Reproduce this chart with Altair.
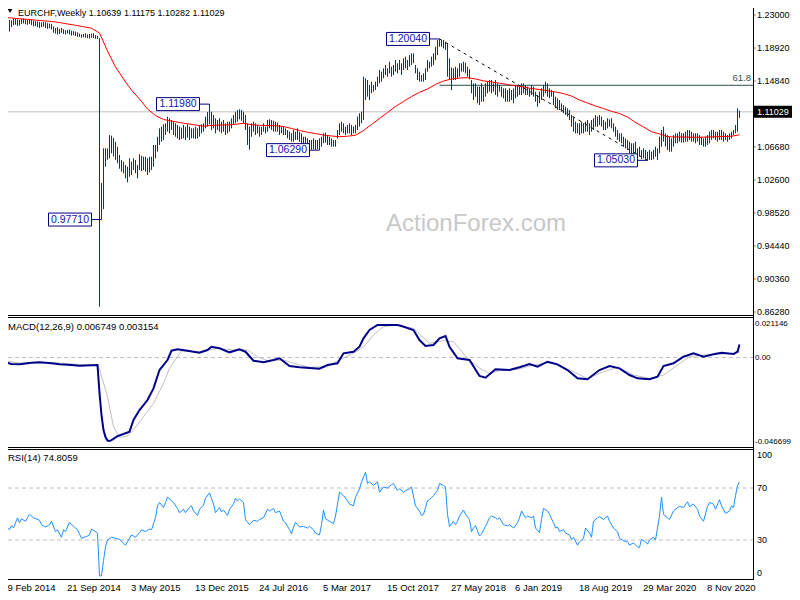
import altair as alt
import pandas as pd

START = "2014-02-09"  # first weekly bar

# ---------------- price bars (weekly high / low) ----------------
high = [
 1.2272, 1.2265, 1.2250, 1.2240, 1.2235, 1.2255, 1.2250, 1.2245, 1.2240, 1.2250,
 1.2255, 1.2250, 1.2240, 1.2245, 1.2240, 1.2230, 1.2225, 1.2220, 1.2215, 1.2210,
 1.2215, 1.2210, 1.2200, 1.2195, 1.2190, 1.2160, 1.2140, 1.2150, 1.2130, 1.2140,
 1.2125, 1.2110, 1.2115, 1.2120, 1.2105, 1.2100, 1.2095, 1.2085, 1.2070, 1.2060,
 1.2065, 1.2075, 1.2060, 1.2065, 1.2070, 1.2075, 1.2050, 1.2040, 1.2013, 1.0223,
 1.0652, 1.0652, 1.0650, 1.0816, 1.0808, 1.0780, 1.0733, 1.0670, 1.0570, 1.0507,
 1.0486, 1.0446, 1.0425, 1.0528, 1.0486, 1.0528, 1.0507, 1.0446, 1.0578, 1.0560,
 1.0548, 1.0548, 1.0528, 1.0548, 1.0548, 1.0693, 1.0693, 1.0795, 1.0899, 1.0919,
 1.0949, 1.0961, 1.1043, 1.1023, 1.1002, 1.0981, 1.0961, 1.0940, 1.0919, 1.0907,
 1.0940, 1.0919, 1.0949, 1.0919, 1.0899, 1.0899, 1.0919, 1.0900, 1.0940, 1.0949,
 1.0961, 1.1043, 1.1100, 1.1198, 1.1104, 1.1064, 1.1023, 1.1002, 1.1023, 1.0981,
 1.1002, 1.0961, 1.0981, 1.0981, 1.1023, 1.1064, 1.1104, 1.1125, 1.1134, 1.1125,
 1.1104, 1.1064, 1.0961, 1.0919, 1.0961, 1.0981, 1.0961, 1.0940, 1.0919, 1.0919,
 1.0961, 1.0919, 1.1002, 1.1010, 1.1002, 1.0993, 1.0981, 1.0969, 1.0940, 1.0919,
 1.0919, 1.0899, 1.0878, 1.0857, 1.0837, 1.0878, 1.0857, 1.0899, 1.0857, 1.0837,
 1.0795, 1.0795, 1.0775, 1.0755, 1.0755, 1.0775, 1.0755, 1.0755, 1.0775, 1.0795,
 1.0837, 1.0845, 1.0816, 1.0795, 1.0775, 1.0755, 1.0755, 1.0878, 1.0961, 1.0981,
 1.0961, 1.0919, 1.0940, 1.0961, 1.0940, 1.0919, 1.0940, 1.1043, 1.1085, 1.1104,
 1.1537, 1.1517, 1.1496, 1.1435, 1.1476, 1.1435, 1.1476, 1.1537, 1.1620, 1.1599,
 1.1641, 1.1682, 1.1641, 1.1723, 1.1661, 1.1682, 1.1744, 1.1703, 1.1744, 1.1703,
 1.1765, 1.1785, 1.1744, 1.1805, 1.1826, 1.1826, 1.1682, 1.1641, 1.1599, 1.1558,
 1.1579, 1.1641, 1.1744, 1.1723, 1.1785, 1.1826, 1.1908, 1.1991, 1.2004, 1.1991,
 1.1991, 1.1970, 1.1941, 1.1765, 1.1650, 1.1641, 1.1661, 1.1641, 1.1703, 1.1703,
 1.1723, 1.1711, 1.1661, 1.1629, 1.1496, 1.1455, 1.1455, 1.1414, 1.1414, 1.1455,
 1.1414, 1.1455, 1.1476, 1.1496, 1.1496, 1.1455, 1.1496, 1.1455, 1.1435, 1.1414,
 1.1394, 1.1394, 1.1373, 1.1394, 1.1373, 1.1394, 1.1435, 1.1435, 1.1414, 1.1455,
 1.1455, 1.1435, 1.1414, 1.1394, 1.1435, 1.1414, 1.1352, 1.1311, 1.1352, 1.1394,
 1.1435, 1.1476, 1.1455, 1.1394, 1.1373, 1.1352, 1.1290, 1.1270, 1.1249, 1.1208,
 1.1187, 1.1166, 1.1146, 1.1125, 1.1064, 1.1043, 1.0981, 1.0961, 1.0961, 1.0981,
 1.0961, 1.0981, 1.1002, 1.0961, 1.1002, 1.1023, 1.1064, 1.1043, 1.1064, 1.1043,
 1.1002, 1.0981, 1.1023, 1.1010, 1.1023, 1.0961, 1.0919, 1.0878, 1.0837, 1.0837,
 1.0795, 1.0775, 1.0755, 1.0734, 1.0714, 1.0714, 1.0734, 1.0652, 1.0672, 1.0631,
 1.0652, 1.0631, 1.0610, 1.0631, 1.0610, 1.0631, 1.0672, 1.0652, 1.0795, 1.0878,
 1.0919, 1.0837, 1.0816, 1.0795, 1.0775, 1.0816, 1.0837, 1.0837, 1.0857, 1.0837,
 1.0837, 1.0857, 1.0878, 1.0878, 1.0857, 1.0837, 1.0837, 1.0837, 1.0816, 1.0795,
 1.0775, 1.0795, 1.0816, 1.0857, 1.0878, 1.0878, 1.0857, 1.0857, 1.0878, 1.0878,
 1.0857, 1.0837, 1.0816, 1.0837, 1.0857, 1.0878, 1.0940, 1.1146, 1.11175,
]
low = [
 1.2215, 1.2200, 1.2190, 1.2095, 1.2150, 1.2175, 1.2180, 1.2165, 1.2170, 1.2190,
 1.2195, 1.2185, 1.2180, 1.2190, 1.2175, 1.2160, 1.2165, 1.2150, 1.2140, 1.2150,
 1.2155, 1.2140, 1.2130, 1.2135, 1.2120, 1.2080, 1.2070, 1.2060, 1.2065, 1.2080,
 1.2065, 1.2060, 1.2070, 1.2060, 1.2045, 1.2050, 1.2040, 1.2030, 1.2030, 1.2020,
 1.2025, 1.2020, 1.2015, 1.2010, 1.2020, 1.2015, 1.2005, 1.2003, 0.8693, 0.9771,
 0.9900, 1.0424, 1.0510, 1.0528, 1.0590, 1.0550, 1.0507, 1.0467, 1.0400, 1.0363,
 1.0343, 1.0280, 1.0231, 1.0300, 1.0322, 1.0384, 1.0343, 1.0280, 1.0384, 1.0370,
 1.0384, 1.0363, 1.0322, 1.0355, 1.0384, 1.0424, 1.0528, 1.0610, 1.0693, 1.0733,
 1.0754, 1.0816, 1.0857, 1.0837, 1.0878, 1.0816, 1.0795, 1.0775, 1.0754, 1.0767,
 1.0775, 1.0754, 1.0783, 1.0754, 1.0775, 1.0775, 1.0767, 1.0775, 1.0795, 1.0837,
 1.0857, 1.0899, 1.0919, 1.0950, 1.0878, 1.0899, 1.0837, 1.0878, 1.0857, 1.0837,
 1.0857, 1.0816, 1.0837, 1.0857, 1.0899, 1.0940, 1.0961, 1.0981, 1.1010, 1.0993,
 1.0961, 1.0878, 1.0693, 1.0635, 1.0795, 1.0857, 1.0816, 1.0837, 1.0795, 1.0816,
 1.0857, 1.0837, 1.0857, 1.0899, 1.0878, 1.0857, 1.0857, 1.0857, 1.0816, 1.0837,
 1.0816, 1.0816, 1.0775, 1.0755, 1.0734, 1.0734, 1.0755, 1.0755, 1.0734, 1.0714,
 1.0672, 1.0652, 1.0631, 1.0631, 1.0635, 1.0640, 1.0633, 1.0640, 1.0629, 1.0672,
 1.0714, 1.0722, 1.0693, 1.0693, 1.0672, 1.0672, 1.0672, 1.0775, 1.0816, 1.0857,
 1.0837, 1.0816, 1.0837, 1.0837, 1.0816, 1.0837, 1.0837, 1.0878, 1.0919, 1.0961,
 1.1002, 1.1249, 1.1290, 1.1249, 1.1332, 1.1352, 1.1373, 1.1414, 1.1455, 1.1476,
 1.1517, 1.1558, 1.1537, 1.1579, 1.1537, 1.1558, 1.1599, 1.1579, 1.1620, 1.1558,
 1.1620, 1.1641, 1.1620, 1.1661, 1.1682, 1.1703, 1.1579, 1.1496, 1.1476, 1.1476,
 1.1476, 1.1496, 1.1599, 1.1641, 1.1661, 1.1682, 1.1744, 1.1805, 1.1908, 1.1908,
 1.1887, 1.1867, 1.1537, 1.1496, 1.1373, 1.1496, 1.1496, 1.1517, 1.1537, 1.1599,
 1.1599, 1.1579, 1.1537, 1.1505, 1.1332, 1.1249, 1.1290, 1.1208, 1.1187, 1.1228,
 1.1228, 1.1290, 1.1332, 1.1352, 1.1332, 1.1352, 1.1311, 1.1290, 1.1352, 1.1290,
 1.1270, 1.1228, 1.1228, 1.1228, 1.1249, 1.1208, 1.1270, 1.1290, 1.1311, 1.1311,
 1.1332, 1.1311, 1.1311, 1.1290, 1.1311, 1.1290, 1.1228, 1.1166, 1.1208, 1.1249,
 1.1290, 1.1332, 1.1290, 1.1270, 1.1290, 1.1187, 1.1146, 1.1125, 1.1125, 1.1104,
 1.1085, 1.1064, 1.1043, 1.1002, 1.0919, 1.0857, 1.0837, 1.0837, 1.0816, 1.0837,
 1.0837, 1.0857, 1.0857, 1.0816, 1.0857, 1.0878, 1.0919, 1.0919, 1.0940, 1.0919,
 1.0878, 1.0878, 1.0899, 1.0919, 1.0899, 1.0857, 1.0795, 1.0755, 1.0734, 1.0714,
 1.0672, 1.0652, 1.0631, 1.0590, 1.0569, 1.0569, 1.0590, 1.0548, 1.0548, 1.0516,
 1.0528, 1.0507, 1.0503, 1.0507, 1.0507, 1.0516, 1.0548, 1.0507, 1.0590, 1.0672,
 1.0734, 1.0672, 1.0631, 1.0610, 1.0610, 1.0672, 1.0714, 1.0714, 1.0734, 1.0722,
 1.0722, 1.0734, 1.0734, 1.0755, 1.0734, 1.0734, 1.0714, 1.0734, 1.0693, 1.0693,
 1.0672, 1.0672, 1.0693, 1.0714, 1.0755, 1.0775, 1.0755, 1.0734, 1.0755, 1.0755,
 1.0734, 1.0755, 1.0734, 1.0755, 1.0775, 1.0816, 1.0837, 1.0857, 1.10282,
]

# ---------------- moving average (red), read every 4 weeks ----------------
MA_STEP = 4
ma = [
 1.2272, 1.2263, 1.2254, 1.2246, 1.2237, 1.2228, 1.2220, 1.2207, 1.2189, 1.2173,
 1.2155, 1.2137, 1.2077, 1.1855, 1.1657, 1.1509, 1.1373, 1.1261, 1.1138, 1.1057,
 1.1008, 1.0989, 1.0971, 1.0955, 1.0940, 1.0925, 1.0934, 1.0940, 1.0940, 1.0949,
 1.0961, 1.0944, 1.0936, 1.0934, 1.0930, 1.0921, 1.0897, 1.0872, 1.0851, 1.0834,
 1.0816, 1.0804, 1.0795, 1.0801, 1.0813, 1.0872, 1.0946, 1.1020, 1.1095, 1.1169,
 1.1231, 1.1292, 1.1344, 1.1385, 1.1441, 1.1484, 1.1509, 1.1521, 1.1525, 1.1509,
 1.1486, 1.1472, 1.1456, 1.1441, 1.1425, 1.1410, 1.1391, 1.1379, 1.1364, 1.1348,
 1.1329, 1.1298, 1.1249, 1.1212, 1.1175, 1.1144, 1.1109, 1.1082, 1.1039, 1.0971,
 1.0916, 1.0857, 1.0829, 1.0795, 1.0792, 1.0792, 1.0789, 1.0788, 1.0792, 1.0794,
 1.0798, 1.0801, 1.0819,
]

# ---------------- MACD (12,26,9) ----------------
macd_weeks = [0, 4, 8, 14, 18, 24, 28, 34, 38, 44, 47, 48, 49, 50, 51, 52, 53, 54, 57, 60,
              63, 65, 68, 72, 75, 78, 82, 84, 87, 92, 98, 102, 104, 108, 113, 118, 121, 125, 130, 135,
              138, 143, 148, 153, 158, 162, 167, 170, 175, 178, 180, 183, 187, 192, 197, 199, 205, 208, 211, 215,
              218, 221, 223, 227, 233, 238, 241, 246, 253, 258, 263, 267, 272, 277, 282, 287, 292, 298, 303, 308,
              313, 317, 323, 327, 330, 335, 340, 345, 350, 355, 359, 365, 367, 368]
macd_vals = [-0.00219, -0.00339, -0.00355, -0.00271, -0.00251, -0.00303, -0.00355, -0.00391, -0.00428, -0.00407,
             -0.00391, -0.01853, -0.03001, -0.03784, -0.04149, -0.04332, -0.04358, -0.04306, -0.0410, -0.0399,
             -0.0387, -0.0326, -0.0274, -0.0222, -0.0161, -0.00652, -0.0013, 0.00355, 0.00428, 0.00355,
             0.00251, 0.00391, 0.00564, 0.00480, 0.00271, 0.00428, 0.00303, -0.00167, -0.00251, -0.00130,
             -0.00042, -0.00444, -0.00511, -0.00548, -0.00585, -0.00391, -0.00303, 0.00219, 0.00303, 0.00564,
             0.01002, 0.01435, 0.01696, 0.01696, 0.01696, 0.01644, 0.01435, 0.00913, 0.00600, 0.00652,
             0.01002, 0.01122, 0.00564, -0.00042, -0.00130, -0.00965, -0.01054, -0.00616, -0.00652, -0.00511,
             -0.00339, -0.00480, -0.00219, -0.00355, -0.00652, -0.01085, -0.01138, -0.00652, -0.00444, -0.00564,
             -0.00913, -0.01085, -0.01138, -0.01002, -0.00444, -0.00303, 0.00042, 0.00219, 0.00042, 0.00167,
             0.00251, 0.00183, 0.00303, 0.006749]
signal_weeks = [0, 8, 24, 38, 47, 48, 52, 55, 58, 62, 65, 70, 75, 80, 83, 87, 89, 98, 107, 115,
                122, 127, 132, 140, 145, 153, 162, 168, 175, 180, 185, 190, 197, 199, 205, 213, 220, 225, 232, 238,
                243, 248, 257, 265, 273, 283, 292, 300, 307, 315, 323, 330, 337, 343, 350, 357, 365, 368]
signal_vals = [-0.0015, -0.0029, -0.0026, -0.0037, -0.0039, -0.0060, -0.0205, -0.0361, -0.0416, -0.0410,
               -0.0378, -0.0309, -0.0239, -0.0135, -0.0056, 0.0004, 0.0035, 0.0030, 0.0048, 0.0039,
               0.0039, 0.0004, -0.0017, -0.0013, -0.0030, -0.0051, -0.0048, -0.0013, 0.0022, 0.0056,
               0.0117, 0.0161, 0.0170, 0.0164, 0.0152, 0.0074, 0.0088, 0.0082, -0.0004, -0.0056,
               -0.0082, -0.0069, -0.0062, -0.0039, -0.0027, -0.0065, -0.0109, -0.0074, -0.0051, -0.0091,
               -0.0109, -0.0091, -0.0039, 0.0004, 0.0013, 0.0017, 0.0022, 0.003154]

# ---------------- RSI (14) ----------------
rsi_weeks = [0, 2, 3, 4, 5, 7, 8, 9, 11, 12, 13, 15, 18, 19, 21, 23, 24, 26, 27, 29,
             30, 31, 33, 35, 37, 39, 42, 43, 44, 46, 47, 48, 49, 50, 51, 52, 54, 56, 58, 60,
             61, 63, 64, 66, 68, 69, 71, 73, 74, 76, 77, 78, 80, 81, 82, 84, 85, 87, 88, 90,
             91, 93, 94, 95, 97, 98, 100, 101, 103, 104, 105, 106, 108, 109, 110, 112, 113, 115, 116, 117,
             118, 120, 121, 123, 124, 125, 127, 128, 130, 132, 133, 135, 136, 138, 140, 141, 143, 144, 145, 146,
             148, 150, 152, 153, 155, 156, 158, 159, 160, 161, 163, 165, 166, 167, 168, 170, 172, 173, 175, 176,
             178, 179, 181, 182, 183, 185, 187, 188, 190, 192, 194, 195, 197, 198, 200, 201, 203, 204, 206, 208,
             209, 210, 212, 213, 215, 217, 218, 220, 221, 222, 223, 225, 226, 227, 228, 230, 231, 233, 234, 235,
             236, 238, 239, 241, 243, 244, 246, 247, 248, 250, 252, 253, 255, 257, 258, 259, 261, 262, 264, 265,
             266, 268, 269, 270, 272, 273, 275, 276, 277, 278, 280, 281, 283, 284, 285, 287, 288, 290, 291, 293,
             294, 295, 297, 298, 300, 302, 303, 305, 307, 308, 310, 312, 313, 315, 317, 318, 319, 321, 322, 323,
             325, 326, 328, 329, 330, 332, 333, 335, 337, 338, 340, 342, 343, 345, 347, 348, 350, 352, 353, 355,
             356, 358, 359, 361, 363, 364, 365, 366, 367, 368]
rsi_vals = [43.6, 39.2, 37.9, 41.0, 39.2, 47.1, 43.2, 46.3, 44.4, 47.1, 49.7, 47.1, 45.2, 41.8, 40.0, 41.8, 44.4, 36.5, 37.9, 32.1,
            37.9, 36.5, 43.6, 40.5, 37.9, 31.3, 33.1, 33.9, 38.4, 36.5, 35.3, 2.4, 2.4, 14.2, 24.7, 30.0, 32.1, 31.3, 30.5, 27.4,
            26.0, 31.3, 33.9, 32.1, 35.7, 37.9, 36.5, 38.4, 37.9, 47.1, 56.3, 58.9, 55.0, 58.9, 62.9, 60.2, 58.9, 54.2, 51.0, 53.6,
            51.0, 55.0, 56.3, 52.3, 48.9, 53.6, 56.8, 62.1, 66.3, 62.1, 57.6, 51.0, 55.0, 51.5, 53.1, 48.9, 53.6, 57.6, 62.1, 60.2,
            61.5, 58.9, 45.8, 41.8, 43.2, 45.2, 44.4, 45.8, 47.1, 53.6, 52.3, 54.2, 51.0, 52.3, 44.4, 43.2, 37.9, 34.7, 40.0, 43.6,
            40.0, 40.5, 39.2, 40.5, 37.9, 35.3, 33.9, 41.8, 53.1, 46.3, 44.4, 42.6, 48.4, 57.6, 66.8, 64.1, 60.2, 57.6, 56.3, 62.9,
            69.4, 74.7, 82.1, 73.4, 74.7, 72.0, 74.7, 66.8, 70.8, 70.0, 72.6, 73.4, 68.1, 69.4, 66.8, 68.1, 69.4, 70.8, 56.3, 52.3,
            48.9, 49.7, 60.2, 61.0, 64.1, 68.1, 73.4, 72.0, 70.8, 49.7, 40.5, 44.4, 41.8, 44.4, 48.4, 53.1, 49.7, 45.8, 36.5, 39.2,
            41.0, 33.1, 34.7, 40.5, 47.1, 48.4, 47.1, 45.8, 47.1, 41.8, 41.0, 41.8, 39.2, 43.2, 47.1, 52.3, 47.1, 48.4, 47.1, 48.4,
            39.2, 35.7, 45.8, 54.2, 52.3, 49.7, 43.2, 39.2, 40.0, 36.5, 37.9, 35.3, 33.9, 30.5, 32.1, 26.0, 28.6, 31.3, 39.2, 35.3,
            32.1, 44.4, 47.1, 47.9, 45.8, 48.4, 44.4, 39.2, 36.5, 31.3, 29.4, 28.6, 26.0, 27.8, 24.7, 24.2, 30.5, 28.6, 26.8, 30.0,
            32.1, 30.0, 48.4, 62.9, 49.7, 47.1, 45.8, 52.3, 55.0, 55.8, 55.0, 59.4, 55.8, 57.6, 53.6, 48.4, 44.4, 55.8, 58.9, 57.6,
            53.6, 61.0, 56.3, 50.5, 52.3, 56.3, 55.0, 64.1, 72.0, 74.8059]

# ---------------- axes, levels, annotations ----------------
price_ticks = [1.23, 1.1892, 1.1484, 1.0668, 1.026, 0.9852, 0.9444, 0.9036, 0.8628]
macd_ticks = [0.021146, 0.0, -0.046699]
rsi_ticks = [100, 70, 30, 0]
rsi_levels = [70, 30]
date_tick_weeks = [0, 32, 64, 96, 128, 160, 192, 224, 256, 288, 320, 352]

ann_weeks = [49, 103, 158, 218, 322]
ann_prices = [0.9771, 1.1198, 1.0629, 1.2004, 1.0503]
trend_weeks = [218, 322]
trend_prices = [1.2004, 1.0503]
fib_week = 218
fib_price = 1.1431
fib_label = "61.8"
last_open, last_high, last_low, last_close = 1.10639, 1.11175, 1.10282, 1.11029
macd_last, signal_last = 0.006749, 0.003154
rsi_last = 74.8059

# ---------------- helpers ----------------
t0 = pd.Timestamp(START, tz="UTC")


def ms(w):
    return int((t0 + pd.Timedelta(days=7 * w)).value // 1_000_000)


def date_label(w):
    d = t0 + pd.Timedelta(days=7 * w)
    return f"{d.day} {d.strftime('%b')} {d.year}"


FONT = "Liberation Sans"
FS = 9.5
AXFS = 9
BAR = "#0f3857"
TICK = "#c08850"
CW, CH = 784, 590            # canvas (page is 800 wide with 8px margins)
VIEW_FIRST_WEEK = 2.25       # week at the canvas' left edge
PLOT_END_WEEK = 374.75       # week at the panels' right border
X_START = ms(VIEW_FIRST_WEEK)
X_END = ms(PLOT_END_WEEK)
LABEL_X = 749                # left edge of the right-hand scale labels

xs = alt.Scale(type="utc", domain=[X_START, ms(VIEW_FIRST_WEEK + CW / 2)], nice=False)
price_scale = alt.Scale(domain=[0.859088, 1.238655], range=[307, 0], nice=False, zero=False)
macd_scale = alt.Scale(domain=[-0.046699, 0.021146], range=[439, 309], nice=False, zero=False)
rsi_scale = alt.Scale(domain=[0, 100], range=[571, 441], nice=False, zero=False)


def X(field="t"):
    return alt.X(f"{field}:T", scale=xs, axis=None)


def YP(field):
    return alt.Y(f"{field}:Q", scale=price_scale, axis=None)


def YM(field):
    return alt.Y(f"{field}:Q", scale=macd_scale, axis=None)


def YR(field):
    return alt.Y(f"{field}:Q", scale=rsi_scale, axis=None)


def txt(df, **kw):
    base = dict(font=FONT, fontSize=FS, color="black", align="left", baseline="middle")
    base.update(kw)
    return alt.Chart(df).mark_text(**base)


one = pd.DataFrame({"k": [0]})

# ---------------- data frames ----------------
bars_df = pd.DataFrame({"t": [ms(i) for i in range(len(high))], "high": high, "low": low})
ma_df = pd.DataFrame({"t": [ms(i * MA_STEP) for i in range(len(ma))], "ma": ma})
last_df = pd.DataFrame({"t": [X_START], "t2": [X_END], "p": [last_close],
                        "label": [f"{last_close:.5f}"]})
fib_df = pd.DataFrame({"t": [ms(fib_week)], "t2": [X_END], "p": [fib_price], "label": [fib_label]})
trend_df = pd.DataFrame({"t": [ms(w) for w in trend_weeks], "p": trend_prices})
ann_df = pd.DataFrame({"t": [ms(w) for w in ann_weeks], "p": ann_prices,
                       "label": [f"{p:.5f}" for p in ann_prices]})
pt_df = pd.DataFrame({"p": price_ticks, "label": [f"{p:.5f}" for p in price_ticks]})
macd_df = pd.DataFrame({"t": [ms(w) for w in macd_weeks], "v": macd_vals})
sig_df = pd.DataFrame({"t": [ms(w) for w in signal_weeks], "v": signal_vals})
zero_df = pd.DataFrame({"t": [X_START], "t2": [X_END], "v": [0.0]})
rsi_df = pd.DataFrame({"t": [ms(w) for w in rsi_weeks], "v": rsi_vals})
lvl_df = pd.DataFrame({"t": [X_START] * len(rsi_levels), "t2": [X_END] * len(rsi_levels),
                       "v": rsi_levels})
date_df = pd.DataFrame({"t": [ms(w) for w in date_tick_weeks], "label": [date_label(w) for w in date_tick_weeks]})


def tick_df(vals, fmt):
    return pd.DataFrame({"v": vals, "label": [fmt(v) for v in vals]})


macd_fmt = lambda v: "0.00" if v == 0 else f"{v:.6f}"
rsi_fmt = lambda v: f"{v:d}"

layers = []
# watermark
layers.append(txt(pd.DataFrame({"s": ["ActionForex.com"]}), align="center", fontSize=24, color="#c8c8c8")
              .encode(x=alt.value(468), y=alt.value(216), text="s:N"))
# ---- main panel ----
layers.append(alt.Chart(last_df).mark_rule(color="#c0c0c0", strokeWidth=1)
              .encode(x=X(), x2=alt.X2("t2"), y=YP("p")))
layers.append(alt.Chart(fib_df).mark_rule(color="#2f4f4f", strokeWidth=1)
              .encode(x=X(), x2=alt.X2("t2"), y=YP("p")))
layers.append(txt(fib_df, align="right", baseline="bottom", dx=-2, dy=-2, color="#2f4f4f")
              .encode(x=X("t2"), y=YP("p"), text="label:N"))
layers.append(alt.Chart(trend_df).mark_line(color="black", strokeWidth=1, strokeDash=[3, 4])
              .encode(x=X(), y=YP("p")))
layers.append(alt.Chart(bars_df).mark_rule(color=BAR, strokeWidth=1)
              .encode(x=X(), y=YP("low"), y2=alt.Y2("high")))
layers.append(alt.Chart(ma_df).mark_line(color="#ff0000", strokeWidth=1).encode(x=X(), y=YP("ma")))
layers.append(alt.Chart(ann_df).mark_rule(color="#000080", strokeWidth=1, xOffset=-10)
              .encode(x=X(), x2=alt.X2("t"), y=YP("p")))
layers.append(alt.Chart(ann_df).mark_rect(fill="white", stroke="#000080", strokeWidth=1, xOffset=-53,
                                          x2Offset=-10, yOffset=-6.5, y2Offset=6.5)
              .encode(x=X(), x2=alt.X2("t"), y=YP("p"), y2=alt.Y2("p")))
layers.append(txt(ann_df, fontSize=10.5, color="#1414b4", align="center", dx=-31.5)
              .encode(x=X(), y=YP("p"), text="label:N"))
# title of main panel
layers.append(alt.Chart(one).mark_point(shape="triangle-down", filled=True, color="black", size=22, opacity=1)
              .encode(x=alt.value(2), y=alt.value(3)))
layers.append(txt(pd.DataFrame({"s": [f"EURCHF,Weekly  {last_open:.5f} {last_high:.5f} {last_low:.5f} {last_close:.5f}"]}),
                  fontSize=9, baseline="top").encode(x=alt.value(10), y=alt.value(0.5), text="s:N"))
# price axis labels + ticks
layers.append(alt.Chart(pt_df).mark_rule(color=TICK, strokeWidth=1)
              .encode(x=alt.value(746), x2=alt.value(748), y=YP("p")))
layers.append(txt(pt_df, fontSize=AXFS).encode(x=alt.value(LABEL_X), y=YP("p"), text="label:N"))
layers.append(alt.Chart(last_df).mark_rect(color="black", yOffset=-6, y2Offset=6)
              .encode(x=alt.value(746), x2=alt.value(784), y=YP("p"), y2=alt.Y2("p")))
layers.append(txt(last_df, color="white", fontSize=AXFS)
              .encode(x=alt.value(LABEL_X), y=YP("p"), text="label:N"))

# ---- MACD panel ----
layers.append(alt.Chart(zero_df).mark_rule(color="#c0c0c0", strokeWidth=1, strokeDash=[4, 3])
              .encode(x=X(), x2=alt.X2("t2"), y=YM("v")))
layers.append(alt.Chart(sig_df).mark_line(color="#c0c0c0", strokeWidth=1).encode(x=X(), y=YM("v")))
layers.append(alt.Chart(macd_df).mark_line(color="#00008b", strokeWidth=2).encode(x=X(), y=YM("v")))
layers.append(txt(pd.DataFrame({"s": [f"MACD(12,26,9) {macd_last:.6f} {signal_last:.6f}"]}))
              .encode(x=alt.value(0), y=alt.value(318.5), text="s:N"))
layers.append(txt(tick_df(macd_ticks[:1], macd_fmt), baseline="top", dy=3, fontSize=8)
              .encode(x=alt.value(LABEL_X - 2), y=YM("v"), text="label:N"))
layers.append(txt(tick_df(macd_ticks[1:2], macd_fmt), fontSize=8)
              .encode(x=alt.value(LABEL_X - 2), y=YM("v"), text="label:N"))
layers.append(txt(tick_df(macd_ticks[2:], macd_fmt), baseline="bottom", dy=-1, fontSize=8)
              .encode(x=alt.value(LABEL_X - 2), y=YM("v"), text="label:N"))

# ---- RSI panel ----
layers.append(alt.Chart(lvl_df).mark_rule(color="#c0c0c0", strokeWidth=1, strokeDash=[4, 3])
              .encode(x=X(), x2=alt.X2("t2"), y=YR("v")))
layers.append(alt.Chart(rsi_df).mark_line(color="#1e90ff", strokeWidth=1).encode(x=X(), y=YR("v")))
layers.append(txt(pd.DataFrame({"s": [f"RSI(14) {rsi_last:.4f}"]}))
              .encode(x=alt.value(0), y=alt.value(449.5), text="s:N"))
layers.append(txt(tick_df(rsi_ticks[:1], rsi_fmt), baseline="top", dy=2, fontSize=AXFS)
              .encode(x=alt.value(LABEL_X), y=YR("v"), text="label:N"))
layers.append(txt(tick_df(rsi_ticks[1:3], rsi_fmt), fontSize=AXFS)
              .encode(x=alt.value(LABEL_X), y=YR("v"), text="label:N"))
layers.append(txt(tick_df(rsi_ticks[3:], rsi_fmt), baseline="bottom", dy=-1, fontSize=AXFS)
              .encode(x=alt.value(LABEL_X), y=YR("v"), text="label:N"))
# date labels under the RSI panel (the first one is kept inside the canvas)
layers.append(txt(date_df, dx=-0.5)
              .transform_calculate(tx=f"max(datum.t, {X_START})")
              .encode(x=alt.X("tx:T", scale=xs, axis=None), y=alt.value(580), text="label:N"))

# ---- panel frames (bottom/top borders and the right border) ----
for yv in (307.5, 309.5, 439.5, 441.5, 571.5):
    layers.append(alt.Chart(one).mark_rule(color="black", strokeWidth=1)
                  .encode(x=alt.value(0), x2=alt.value(746), y=alt.value(yv)))
layers.append(alt.Chart(one).mark_rule(color="black", strokeWidth=1)
              .encode(x=alt.value(745.5), y=alt.value(0), y2=alt.value(572)))

chart = alt.layer(*layers).resolve_scale(y="independent").properties(
    width=CW, height=CH,
    autosize=alt.AutoSizeParams(type="none"),
    padding=0,
    background="white",
).configure_view(stroke=None)

chart.save("out.html", embed_options={"renderer": "svg", "actions": False})
